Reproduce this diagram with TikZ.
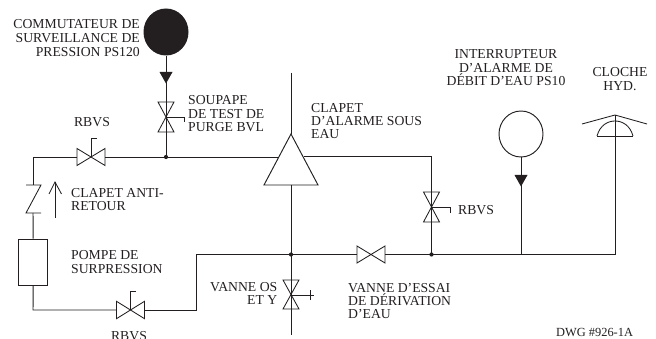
\documentclass[tikz,border=0pt]{standalone}
\usepackage{fontspec}
\usetikzlibrary{shapes.geometric}
\setmainfont{Liberation Serif}
\definecolor{ink}{HTML}{231F20}
\tikzset{
  pipe/.style={draw=ink,line width=0.95pt},
  thin pipe/.style={draw=ink,line width=0.85pt},
  junction/.style={circle,fill=ink,inner sep=0pt,minimum size=4.2pt},
  lab/.style={font=\fontsize{13.7}{14}\selectfont,text=ink,inner sep=0pt},
  labl/.style={lab,anchor=base west},
  labr/.style={lab,anchor=base east},
  labc/.style={lab,anchor=base},
  pics/hvalve/.style n args={2}{code={
    \draw[thin pipe,line join=miter] (-#1,-#2) -- (#1,#2) -- (#1,-#2) -- (-#1,#2) -- cycle;
  }},
  pics/vvalve/.style n args={2}{code={
    \draw[thin pipe,line join=miter] (-#1,-#2) -- (#1,-#2) -- (-#1,#2) -- (#1,#2) -- cycle;
  }}
}
\begin{document}
\begin{tikzpicture}[x=1pt,y=-1pt]
\useasboundingbox (0,0) rectangle (656,339);
% key points
\coordinate (jTop) at (166,157);
\coordinate (jMid) at (291,254.5);
\coordinate (jRight) at (431.5,254.5);
\coordinate (jGauge) at (521,254.5);
\coordinate (corner1) at (33,157);
\coordinate (corner2) at (33,310);
\coordinate (corner3) at (196,310);
\coordinate (corner4) at (196,254.5);
\coordinate (corner5) at (615,254.5);
\coordinate (corner6) at (431.5,156);
\coordinate (triL) at (278,157);
\coordinate (triR) at (303.5,156);
\coordinate (riser) at (291,73);
\coordinate (drain) at (291,335);
\coordinate (triTop) at (291,134);
\coordinate (triBot) at (291,185);
\coordinate (bellTop) at (615,115);

% instruments
\node[ellipse,draw=none,fill=ink,minimum width=45pt,minimum height=47pt,inner sep=0pt] (ps120) at (166,32) {};
\node[ellipse,pipe,minimum width=44pt,minimum height=46pt,inner sep=0pt] (ps10) at (521,134) {};
\node[pipe,minimum width=29.5pt,minimum height=46pt,inner sep=0pt] (pump) at (33.2,262) {};

% alarm valve
\draw[pipe,line join=miter] (291,134) -- (318,185) -- (264,185) -- cycle;

% pipes
\draw[pipe] (ps120.south) -- (jTop);
\draw[pipe] (corner1) -- (77,157);
\draw[pipe] (105,157) -- (triL);
\draw[pipe] (corner1) -- (33,185);
\draw[pipe] (33,213) -- (pump.north);
\draw[pipe] (pump.south) -- (corner2) -- (116,310);
\draw[pipe] (145,310) -- (corner3) -- (corner4) -- (357,254.5);
\draw[pipe] (385,254.5) -- (corner5) -- (bellTop);
\draw[pipe] (riser) -- (triTop);
\draw[pipe] (triBot) -- (drain);
\draw[pipe] (triR) -- (corner6) -- (jRight);
\draw[pipe] (ps10.south) -- (jGauge);

% junction dots
\node[junction] (dot1) at (jTop) {};
\node[junction] (dot2) at (jMid) {};
\node[junction] (dot3) at (jRight) {};

% filled arrow heads
\fill[ink] (159.5,72) -- (172.5,72) -- (166,83.5) -- cycle;
\fill[ink] (514.5,175) -- (527.5,175) -- (521,186.5) -- cycle;

% valves
\pic at (166,117) {vvalve={8}{15}};
\draw[thin pipe] (166,117) -- (184,117) -- (184,122);
\pic at (91,157) {hvalve={14}{8.5}};
\draw[thin pipe] (91,157) -- (91,138) -- (97,138);
\pic at (130.5,310) {hvalve={14}{8.7}};
\draw[thin pipe] (130.5,310) -- (130.5,291) -- (136,291);
\pic at (431.5,207) {vvalve={8}{15}};
\draw[thin pipe] (431.5,207) -- (450,207) -- (450,213);
\pic at (371,254.5) {hvalve={14}{8.5}};
\pic at (291,294.5) {vvalve={8}{14.5}};
\draw[thin pipe] (291,295) -- (314,295);
\draw[thin pipe] (310,290) -- (310,300);

% check valve
\draw[thin pipe] (26,185) -- (41,185) -- (26,213) -- (41,213);
\draw[thin pipe] (55,218) -- (55,182);
\draw[thin pipe] (49,194) -- (55,182) -- (61.5,194);

% bell
\draw[thin pipe] (582,124) -- (bellTop) -- (647,124);
\draw[thin pipe] (597,136) -- (633,136);
\draw[thin pipe] (597,136) .. controls (600,125) and (608,121) .. (615,121) .. controls (622,121) and (630,125) .. (633,136);

% labels
\node[labr] (t1a) at (140,28.5) {COMMUTATEUR DE};
\node[labr] (t1b) at (140,43) {SURVEILLANCE DE};
\node[labr] (t1c) at (140,56.5) {PRESSION PS120};
\node[labl] (t2a) at (188,104.5) {SOUPAPE};
\node[labl] (t2b) at (188,118.5) {DE TEST DE};
\node[labl] (t2c) at (188,132) {PURGE BVL};
\node[labc] (t3) at (92,127) {RBVS};
\node[labl] (t4a) at (311,113) {CLAPET};
\node[labl] (t4b) at (311,126) {D’ALARME SOUS};
\node[labl] (t4c) at (311,139) {EAU};
\node[labc] (t5a) at (506,59) {INTERRUPTEUR};
\node[labc] (t5b) at (506,72.5) {D'ALARME DE};
\node[labc] (t5c) at (506,86) {DÉBIT D'EAU PS10};
\node[labc] (t6a) at (620,77) {CLOCHE};
\node[labc] (t6b) at (620,91) {HYD.};
\node[labl] (t7a) at (71,198) {CLAPET ANTI-};
\node[labl] (t7b) at (71,211) {RETOUR};
\node[labl] (t8a) at (71,259) {POMPE DE};
\node[labl] (t8b) at (71,273) {SURPRESSION};
\node[labc] (t9) at (129,340) {RBVS};
\node[labr] (t10a) at (277.5,291) {VANNE OS};
\node[labr] (t10b) at (277.5,304) {ET Y};
\node[labl] (t11) at (458,215) {RBVS};
\node[labl] (t12a) at (348,292) {VANNE D’ESSAI};
\node[labl] (t12b) at (348,305) {DE DÉRIVATION};
\node[labl] (t12c) at (348,318) {D’EAU};
\node[lab,anchor=base west,font=\fontsize{12.4}{13}\selectfont] (t13) at (556,336) {DWG \#926-1A};
\end{tikzpicture}
\end{document}
